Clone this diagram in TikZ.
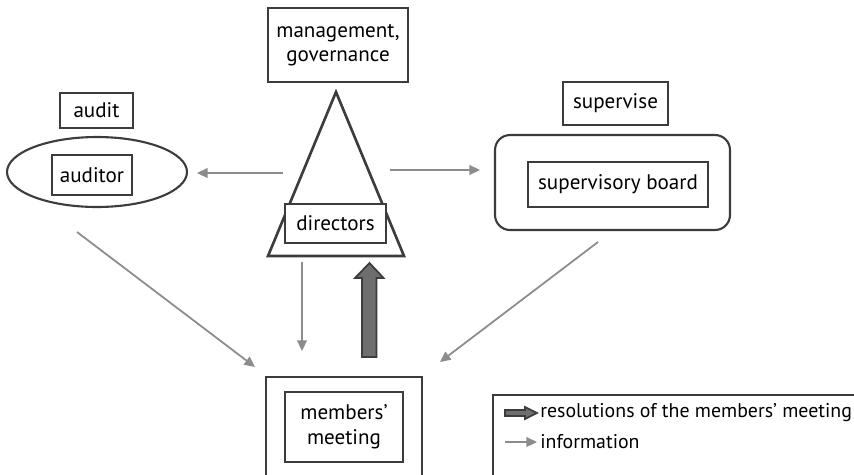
\documentclass[tikz,border=0pt]{standalone}
\usepackage{fontspec}
\setmainfont{PT Sans}
\usetikzlibrary{arrows.meta,shapes.geometric}
\definecolor{linegray}{HTML}{3C3C3C}
\definecolor{infogray}{HTML}{8C8C8C}
\definecolor{resgray}{HTML}{6E6E6E}
\tikzset{
  box/.style={draw=linegray,line width=1.2pt,fill=white,align=center,inner sep=0pt,font=\fontsize{12}{14}\selectfont},
  info/.style={draw=infogray,line width=1pt,-{Triangle[length=6pt,width=5.5pt]}},
  resarrow/.style={draw=linegray,fill=resgray,line width=1pt,line join=miter},
  legtext/.style={anchor=west,inner sep=0pt,font=\fontsize{11.3}{13}\selectfont}
}
\begin{document}
\begin{tikzpicture}[x=0.02cm,y=-0.02cm]
\clip (0,0) rectangle (854,474);
\fill[white] (0,0) rectangle (854,474);

% top of the pyramid
\node[box,minimum width=2.8cm,minimum height=1.48cm] (mgmt) at (338,45) {management,\\governance};
\draw[draw=linegray,line width=1.5pt,line join=miter]
     (336,92) coordinate(apex) -- (268,256) coordinate(bl) -- (404,256) coordinate(br) -- cycle;
\node[box,minimum width=2.02cm,minimum height=0.78cm] (dir) at (335.5,223.5) {directors};

% audit side
\node[box,minimum width=1.46cm,minimum height=0.7cm] (audit) at (96.5,110.5) {audit};
\node[ellipse,draw=linegray,line width=1.2pt,minimum width=3.6cm,minimum height=1.4cm] (audring) at (97,172) {};
\node[box,minimum width=1.6cm,minimum height=0.8cm] (auditor) at (92,175) {auditor};

% supervision side
\node[box,minimum width=2.1cm,minimum height=0.86cm] (superv) at (615.5,103.5) {supervise};
\node[box,rounded corners=0.3cm,minimum width=4.7cm,minimum height=1.9cm] (supring) at (612.5,182.5) {};
\node[box,minimum width=3.6cm,minimum height=0.9cm] (board) at (618,184.5) {supervisory board};

% members' meeting
\node[box,minimum width=3.12cm,minimum height=2.06cm] (mmring) at (344,428.5) {};
\node[box,minimum width=2.36cm,minimum height=1.4cm] (mm) at (344,427) {members’\\meeting};

% information
\coordinate (i1) at (283,173);  \coordinate (o1) at (197,173);
\coordinate (i2) at (390,170);  \coordinate (o2) at (480,170);
\coordinate (i3) at (302,262);  \coordinate (o3) at (302,351);
\coordinate (i4) at (77,232);   \coordinate (o4) at (255,367);
\coordinate (i5) at (598,242);  \coordinate (o5) at (440,362);
\draw[info] (i1) -- (o1);
\draw[info] (i2) -- (o2);
\draw[info] (i3) -- (o3);
\draw[info] (i4) -- (o4);
\draw[info] (i5) -- (o5);

% resolutions
\coordinate (rb) at (369.5,357);
\coordinate (rt) at (369.5,263);
\draw[resarrow] (rb) ++(-7.5,0) -- ++(0,-79) -- ++(-7,0) -- (rt) -- ++(14,15) -- ++(-7,0) -- ++(0,79) -- cycle;

% legend
\node[box,minimum width=7.34cm,minimum height=1.7cm] (legend) at (676.5,437.5) {};
\coordinate (lr) at (505,413);
\coordinate (li) at (505,442);
\draw[resarrow] (lr) ++(0,-3) -- ++(20,0) -- ++(0,-3) -- ++(12,6) -- ++(-12,6) -- ++(0,-3) -- ++(-20,0) -- cycle;
\draw[info] (li) -- ++(32,0);
\node[legtext] (lrtext) at (540,413) {resolutions of the members’ meeting};
\node[legtext] (litext) at (540,442) {information};
\end{tikzpicture}
\end{document}
